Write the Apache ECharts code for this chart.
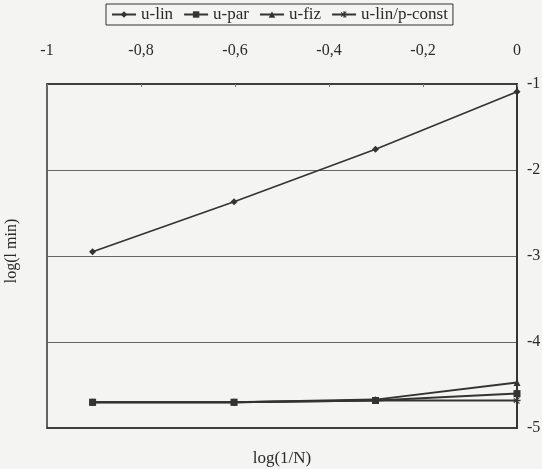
<!DOCTYPE html>
<html><head><meta charset="utf-8">
<script src="https://cdn.jsdelivr.net/npm/echarts@6/dist/echarts.min.js"></script>
<style>html,body{margin:0;padding:0;background:#f4f4f2;}#c{width:542px;height:469px;}</style>
</head><body><div id="c"></div>
<script>
var xVals = [-0.903, -0.602, -0.301, 0];
var uLin = [-2.95, -2.37, -1.76, -1.09];
var uPar = [-4.70, -4.70, -4.68, -4.60];
var uFiz = [-4.70, -4.70, -4.67, -4.47];
var uLinP = [-4.70, -4.70, -4.68, -4.68];
var seriesNames = ['u-lin', 'u-par', 'u-fiz', 'u-lin/p-const'];
var xTicks = [-1, -0.8, -0.6, -0.4, -0.2, 0];
var yTicks = [-5, -4, -3, -2, -1];

function pairs(ys){ return xVals.map(function(x,i){ return [x, ys[i]]; }); }
var font = 'Liberation Serif';
var ink = '#333';
var txt = '#2a2a2a';
var symbols = ['diamond', 'rect', 'triangle', 'path://M4,0 H6 V4 H10 V6 H6 V10 H4 V6 H0 V4 H4 Z M1,1 L9,9 L8,10 L0,2 Z M9,1 L1,9 L0,8 L8,0 Z'];
var dataSets = [uLin, uPar, uFiz, uLinP];

var chart = echarts.init(document.getElementById('c'));
chart.setOption({
  backgroundColor: '#f4f4f2',
  animation: false,
  textStyle: { fontFamily: font },
  legend: {
    top: 4, left: 106,
    data: seriesNames,
    borderColor: ink, borderWidth: 1, padding: [2, 5, 2, 5],
    itemWidth: 24, itemHeight: 8, itemGap: 10,
    textStyle: { fontFamily: font, fontSize: 17, color: txt }
  },
  grid: { left: 47, right: 25, top: 84, bottom: 41, show: true, borderColor: ink, borderWidth: 1.5, outerBoundsMode: 'none', containLabel: false },
  xAxis: [{
    type: 'value', position: 'top', min: -1, max: 0, interval: 0.2,
    axisLine: { show: true, lineStyle: { color: ink, width: 1.5 } },
    axisTick: { show: true, inside: true, length: 3, lineStyle: { color: '#777' } },
    splitLine: { show: false },
    axisLabel: { margin: 25, color: txt, fontFamily: font, fontSize: 16,
      formatter: function(v){ return String(Math.round(v*10)/10).replace('.', ','); } }
  }, {
    type: 'value', position: 'bottom', min: -1, max: 0,
    name: 'log(1/N)', nameLocation: 'middle', nameGap: 22,
    nameTextStyle: { fontFamily: font, fontSize: 17, color: txt },
    axisLine: { show: true, lineStyle: { color: ink, width: 1.5 } },
    axisTick: { show: false }, axisLabel: { show: false }, splitLine: { show: false }
  }],
  yAxis: [{
    type: 'value', position: 'right', min: -5, max: -1, interval: 1,
    axisLine: { show: true, lineStyle: { color: ink, width: 1.5 } },
    axisTick: { show: false },
    splitLine: { show: true, lineStyle: { color: '#666', width: 1 } },
    axisLabel: { margin: 10, color: txt, fontFamily: font, fontSize: 16 }
  }, {
    type: 'value', position: 'left', min: -5, max: -1,
    name: 'log(l min)', nameLocation: 'middle', nameGap: 27, nameRotate: 90,
    nameTextStyle: { fontFamily: font, fontSize: 16, color: txt, padding: [0, 0, 0, 10] },
    axisLine: { show: true, lineStyle: { color: ink, width: 1.5 } },
    axisTick: { show: false }, axisLabel: { show: false }, splitLine: { show: false }
  }],
  series: dataSets.map(function(ys, i){
    return {
      name: seriesNames[i], type: 'line', xAxisIndex: 0, yAxisIndex: 0,
      data: pairs(ys),
      symbol: symbols[i], symbolSize: 7,
      showSymbol: true,
      lineStyle: { color: ink, width: i === 0 ? 1.6 : 2 },
      itemStyle: { color: ink },
      z: 10 - i
    };
  })
});
</script>
</body></html>
